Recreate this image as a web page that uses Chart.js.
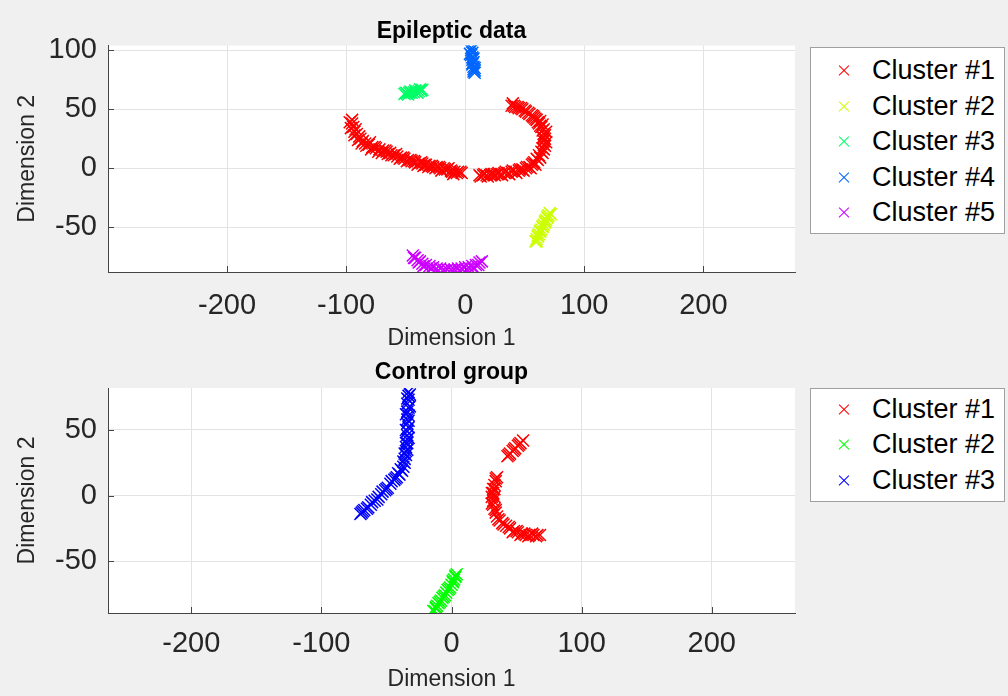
<!DOCTYPE html>
<html>
<head>
<meta charset="utf-8">
<script src="https://cdn.jsdelivr.net/npm/chart.js@4.4.1/dist/chart.umd.min.js"></script>
<style>
    html, body { margin: 0; padding: 0; background: #f0f0f0; }
    body { width: 1008px; height: 696px; position: relative; overflow: hidden; font-family: 'Liberation Sans', Arial, sans-serif; }
    canvas { position: absolute; left: 0; top: 0; }
    .legend { position: absolute; left: 810px; width: 193px; background: #fff; border: 1px solid #a0a0a0; }
    .legend .row { position: absolute; left: 0; width: 193px; height: 35.5px; line-height: 35.5px; font-size: 27px; color: #000; }
    .legend .mk { position: absolute; left: 26px; top: 17px; width: 14px; height: 1.2px; }
    .legend .mk.a { transform: rotate(45deg); }
    .legend .mk.b { transform: rotate(-45deg); }
    .legend span { position: absolute; left: 61px; white-space: nowrap; }
</style>
</head>
<body>
<canvas id="epiChart" width="1008" height="696"></canvas>
<canvas id="ctrlChart" width="1008" height="696"></canvas>
<div class="legend" id="epiLegend" style="top:47px;height:185px"></div>
<div class="legend" id="ctrlLegend" style="top:388px;height:112px"></div>
<script>
// ---- data ----
const xTicks = [-200, -100, 0, 100, 200];
const epiYTicks = [-50, 0, 50, 100];
const ctrlYTicks = [-50, 0, 50];
const epiXRange = [-300, 277];
const epiYRange = [-88, 104];
const ctrlXRange = [-264, 264];
const ctrlYRange = [-89.5, 82];

const epiLabels = ['Cluster #1', 'Cluster #2', 'Cluster #3', 'Cluster #4', 'Cluster #5'];
const ctrlLabels = ['Cluster #1', 'Cluster #2', 'Cluster #3'];

const epiCluster1 = [
    [-95,41],[-95,38],[-94,35],[-92,33],[-93,31],[-91,29],[-89,27],[-88,25],[-86,23],[-84,21],
    [-81,20],[-80,22],[-78,18],[-75,17],[-72,16],[-69,15],[-66,14],[-65,12],[-63,13],[-60,11],
    [-57,10],[-54,9],[-51,8],[-48,7],[-45,6],[-42,5],[-39,4],[-36,4],[-35,2],[-33,3],
    [-30,2],[-27,1],[-24,1],[-21,0],[-20,-2],[-18,0],[-15,-1],[-12,-2],[-9,-3],[-10,-5],
    [-6,-3],[-3,-4],
    [-97,39],[-96,34],[-93,28],[-90,24],[-87,21],[-83,19],[-79,16],[-76,18],[-73,14],[-70,13],
    [-67,15],[-62,11],[-58,12],[-55,8],[-52,9],[-49,6],[-46,7],[-43,6],[-40,3],[-37,5],
    [-34,3],[-31,1],[-28,2],[-25,0],[-22,1],[-17,-1],[-14,0],[-11,-3],[-7,-4],[-4,-3],
    [12,-6],[15,-6],[18,-6],[21,-6],[24,-5],[27,-5],[30,-5],[33,-4],[36,-4],[39,-3],
    [42,-3],[45,-2],[48,-1],[51,0],[54,1],[56,3],[58,5],[60,8],[62,11],[64,14],
    [65,17],[66,20],[66,23],[66,26],[66,29],[67,28],[65,32],[64,35],[65,37],[62,38],
    [63,40],[60,41],[58,43],[56,45],[53,47],[50,49],[47,51],[44,52],[41,53],[39,53],
    [13,-7],[16,-5],[19,-7],[22,-5],[25,-6],[28,-4],[31,-6],[34,-3],[37,-5],[40,-2],
    [43,-4],[46,-1],[49,-2],[52,1],[55,0],[57,4],[59,3],[61,7],[63,9],[65,13],
    [66,16],[67,19],[68,22],[67,25],[65,26],[68,31],[66,33],[63,36],[61,39],[59,42],
    [57,44],[54,46],[51,48],[48,50],[45,51],[42,52],[40,55]
];
const epiCluster2 = [
    [71,-38],[70,-40],[69,-42],[68,-44],[67,-46],[66,-48],[65,-50],[64,-52],[63,-54],[62,-56],
    [61,-58],[60,-60],[59,-62],
    [72,-39],[69,-41],[67,-45],[65,-49],[63,-53],[61,-57],[60,-62]
];
const epiCluster3 = [
    [-51,63],[-49,63.5],[-47,64],[-45,64],[-43,64.5],[-41,65],[-39,65.5],[-37,66],[-36,66.5],
    [-50,64],[-46,65],[-42,66],[-38,67],[-48,62.5],[-40,64]
];
const epiCluster4 = [
    [5,102],[5,100],[6,98],[5,96],[6,94],[6,92],[7,90],[6,88],[7,86],[7,84],[7,82],[8,81],
    [6,101],[4,97],[7,93],[6,89],[8,85],[8,83]
];
const epiCluster5 = [
    [-44,-74],[-42,-76],[-40,-78],[-38,-79],[-36,-81],[-33,-82],[-30,-83],[-27,-84],[-24,-85],[-21,-85],
    [-18,-86],[-15,-86],[-12,-86],[-9,-86],[-6,-85],[-3,-85],[0,-84],[3,-84],[6,-83],[9,-82],
    [12,-80],[14,-79],
    [-43,-76],[-39,-80],[-35,-83],[-29,-85],[-23,-87],[-17,-87],[-11,-87],[-5,-87],[1,-86],[7,-85],
    [11,-82]
];

const ctrlCluster1 = [
    [43,30],[45,32],[47,34],[49,36],[51,38],[53,40],[55,42],
    [35,14],[34,11],[33,8],[32,5],[32,2],[31,-1],[32,-4],[32,-7],[33,-10],[34,-13],[35,-16],
    [37,-19],[39,-21],[42,-23],[45,-25],[48,-27],[51,-28],[54,-29],[57,-30],[60,-30],[63,-30],
    [66,-30],[68,-30],
    [44,31],[48,35],[52,39],[34,13],[33,5],[31,2],[33,-1],[31,-6],[34,-11],[36,-18],
    [40,-22],[44,-24],[47,-28],[50,-27],[53,-30],[56,-29],[59,-31],[62,-29],[65,-31]
];
const ctrlCluster2 = [
    [4,-60],[3,-62],[2,-64],[1,-66],[0,-68],[-1,-70],[-3,-72],[-4,-74],[-5,-76],[-7,-78],
    [-8,-80],[-10,-82],[-11,-84],[-12,-86],[-14,-88],
    [3,-61],[1,-65],[-2,-71],[-6,-77],[-9,-81],[-12,-85],[-13,-88]
];
const ctrlCluster3 = [
    [-33,79],[-33,76],[-33,73],[-34,70],[-33,67],[-34,64],[-33,61],[-34,58],[-34,55],[-33,52],
    [-34,49],[-34,46],[-34,43],[-34,40],[-35,37],[-35,34],[-35,31],[-36,28],[-36,25],[-37,22],
    [-38,19],[-40,16],[-42,14],[-44,12],[-47,9],[-49,6],[-51,4],[-54,1],[-56,-1],[-59,-4],
    [-62,-7],[-64,-9],[-67,-11],[-69,-13],[-70,-14],
    [-32,77],[-34,74],[-32,68],[-35,62],[-33,57],[-35,50],[-33,44],[-35,40],[-34,35],[-36,32],
    [-37,26],[-39,20],[-41,17],[-43,13],[-46,11],[-50,5],[-53,3],[-57,-3],[-61,-5],[-65,-10],
    [-68,-12]
];

// ---- styles ----
const epiColors = ['#ff0000', '#ccff00', '#00ff66', '#0066ff', '#cc00ff'];
const ctrlColors = ['#ff0000', '#00ff00', '#0000ff'];
const FONT = "'Liberation Sans', Arial, sans-serif";

const axesDecor = {
    id: 'axesDecor',
    beforeDraw(chart) {
        const { ctx, chartArea: a } = chart;
        ctx.save();
        ctx.fillStyle = '#ffffff';
        ctx.fillRect(a.left, a.top, a.right - a.left, a.bottom - a.top);
        ctx.restore();
    },
    afterDraw(chart) {
        const { ctx, chartArea: a, scales } = chart;
        ctx.save();
        ctx.strokeStyle = '#444444';
        ctx.lineWidth = 1;
        ctx.beginPath();
        scales.x.ticks.forEach(t => {
            const px = Math.round(scales.x.getPixelForValue(t.value)) + 0.5;
            ctx.moveTo(px, a.bottom);
            ctx.lineTo(px, a.bottom - 6);
        });
        scales.y.ticks.forEach(t => {
            const py = Math.round(scales.y.getPixelForValue(t.value)) + 0.5;
            ctx.moveTo(a.left, py);
            ctx.lineTo(a.left + 6, py);
        });
        ctx.stroke();
        ctx.restore();
    }
};

function buildChart(id, cfg) {
    return new Chart(document.getElementById(id), {
        type: 'scatter',
        data: {
            datasets: cfg.series.map((pts, i) => ({
                label: cfg.labels[i],
                data: pts.map(p => ({ x: p[0], y: p[1] })),
                pointStyle: 'crossRot',
                pointRadius: 8.5,
                pointHoverRadius: 8.5,
                pointBorderWidth: 1.5,
                borderColor: cfg.colors[i],
                backgroundColor: cfg.colors[i]
            }))
        },
        options: {
            responsive: false,
            animation: false,
            devicePixelRatio: 1,
            events: [],
            layout: { padding: { left: 0, right: 213, top: cfg.padTop, bottom: cfg.padBottom } },
            plugins: {
                legend: { display: false },
                tooltip: { enabled: false },
                title: {
                    display: true,
                    fullSize: false,
                    text: cfg.title,
                    color: '#000',
                    font: { family: FONT, size: 23, weight: 'bold' },
                    padding: cfg.titlePad
                }
            },
            scales: {
                x: {
                    type: 'linear',
                    min: cfg.xRange[0],
                    max: cfg.xRange[1],
                    afterBuildTicks: s => { s.ticks = xTicks.map(v => ({ value: v })); },
                    afterFit: s => { s.height = 80.8; },
                    grid: { color: '#e3e3e3', drawTicks: false },
                    border: { color: '#444444' },
                    ticks: {
                        padding: cfg.xTickPad,
                        color: '#262626',
                        maxRotation: 0,
                        autoSkip: false,
                        font: { family: FONT, size: 29 },
                        callback: v => String(v)
                    },
                    title: {
                        display: true,
                        text: 'Dimension 1',
                        color: '#262626',
                        font: { family: FONT, size: 23 },
                        padding: 0
                    }
                },
                y: {
                    type: 'linear',
                    min: cfg.yRange[0],
                    max: cfg.yRange[1],
                    afterBuildTicks: s => { s.ticks = cfg.yTicks.map(v => ({ value: v })); },
                    afterFit: s => { s.width = 108; },
                    grid: { color: '#e3e3e3', drawTicks: false },
                    border: { color: '#444444' },
                    ticks: {
                        padding: 11,
                        color: '#262626',
                        autoSkip: false,
                        font: { family: FONT, size: 29 },
                        callback: v => String(v)
                    },
                    title: {
                        display: true,
                        text: 'Dimension 2',
                        color: '#262626',
                        font: { family: FONT, size: 23 },
                        padding: { top: 14, bottom: 0 }
                    }
                }
            }
        },
        plugins: [axesDecor]
    });
}

function buildLegend(id, labels, colors, padTop) {
    const box = document.getElementById(id);
    labels.forEach((label, i) => {
        const row = document.createElement('div');
        row.className = 'row';
        row.style.top = (padTop + i * 35.5) + 'px';
        row.innerHTML =
            '<div class="mk a" style="background:' + colors[i] + '"></div>' +
            '<div class="mk b" style="background:' + colors[i] + '"></div>' +
            '<span>' + label + '</span>';
        box.appendChild(row);
    });
}

buildChart('epiChart', {
    title: 'Epileptic data',
    series: [epiCluster1, epiCluster2, epiCluster3, epiCluster4, epiCluster5],
    labels: epiLabels,
    colors: epiColors,
    xRange: epiXRange,
    yRange: epiYRange,
    yTicks: epiYTicks,
    padTop: 0,
    padBottom: 343.2,
    titlePad: { top: 18, bottom: 0 },
    xTickPad: 17
});

buildChart('ctrlChart', {
    title: 'Control group',
    series: [ctrlCluster1, ctrlCluster2, ctrlCluster3],
    labels: ctrlLabels,
    colors: ctrlColors,
    xRange: ctrlXRange,
    yRange: ctrlYRange,
    yTicks: ctrlYTicks,
    padTop: 340,
    padBottom: 2.2,
    titlePad: { top: 18.8, bottom: 1.6 },
    xTickPad: 14
});

buildLegend('epiLegend', epiLabels, epiColors, 5);
buildLegend('ctrlLegend', ctrlLabels, ctrlColors, 2.5);
</script>
</body>
</html>
